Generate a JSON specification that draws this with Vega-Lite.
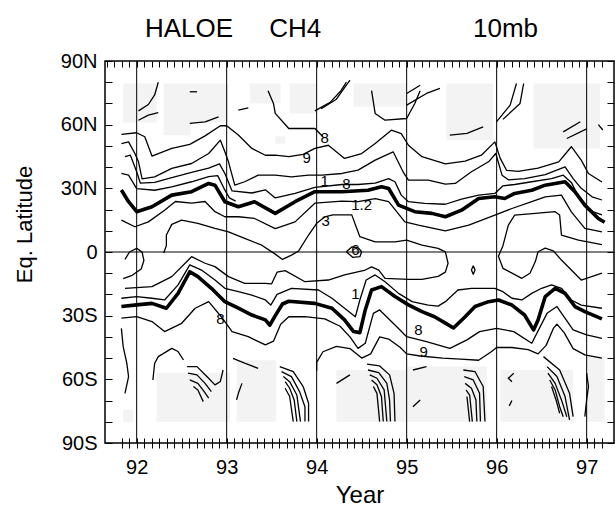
{
"$schema": "https://vega.github.io/schema/vega-lite/v6.json",
"width": 509, "height": 382,
"autosize": {"type": "none"},
"padding": {"left": 105, "top": 61, "right": 1, "bottom": 65},
"background": "white",
"config": {"font": "Liberation Sans", "view": {"stroke": "black", "strokeWidth": 1.5},
  "axis": {"grid": false, "domain": false, "tickColor": "black", "tickWidth": 1, "labelColor": "black", "titleColor": "black", "labelFont": "Liberation Sans", "titleFont": "Liberation Sans", "titleFontWeight": "normal", "labelOverlap": false, "labelFlush": false, "labelBound": false}},
"title": {"text": "HALOE\u00a0\u00a0\u00a0\u00a0\u00a0CH4\u00a0\u00a0\u00a0\u00a0\u00a0\u00a0\u00a0\u00a0\u00a0\u00a0\u00a0\u00a0\u00a0\u00a0\u00a0\u00a0\u00a0\u00a0\u00a0\u00a0\u00a010mb", "anchor": "start", "frame": "group", "dx": 40, "fontSize": 26, "fontWeight": "normal", "font": "Liberation Sans", "color": "black", "offset": 9},
"datasets": {
"lines": [
{"s":"NT","x":91.83,"y":29.2},{"s":"NT","x":91.91,"y":23.7},{"s":"NT","x":92.0,"y":19.0},{"s":"NT","x":92.17,"y":21.3},{"s":"NT","x":92.39,"y":26.8},{"s":"NT","x":92.61,"y":28.4},{"s":"NT","x":92.8,"y":32.3},{"s":"NT","x":92.87,"y":31.5},{"s":"NT","x":92.98,"y":23.7},{"s":"NT","x":93.13,"y":21.3},{"s":"NT","x":93.31,"y":23.7},{"s":"NT","x":93.54,"y":18.2},{"s":"NT","x":93.76,"y":23.7},{"s":"NT","x":93.98,"y":28.4},{"s":"NT","x":94.28,"y":28.4},{"s":"NT","x":94.57,"y":29.1},{"s":"NT","x":94.72,"y":30.7},{"s":"NT","x":94.8,"y":29.9},{"s":"NT","x":94.91,"y":22.1},{"s":"NT","x":95.09,"y":19.0},{"s":"NT","x":95.28,"y":18.2},{"s":"NT","x":95.43,"y":16.6},{"s":"NT","x":95.61,"y":19.7},{"s":"NT","x":95.8,"y":25.2},{"s":"NT","x":95.98,"y":26.0},{"s":"NT","x":96.09,"y":25.2},{"s":"NT","x":96.2,"y":27.6},{"s":"NT","x":96.39,"y":29.1},{"s":"NT","x":96.54,"y":31.5},{"s":"NT","x":96.76,"y":33.1},{"s":"NT","x":96.87,"y":28.4},{"s":"NT","x":96.98,"y":22.1},{"s":"NT","x":97.13,"y":15.8},{"s":"NT","x":97.2,"y":14.0},
{"s":"NA","x":91.83,"y":55.4},{"s":"NA","x":92.0,"y":56.2},{"s":"NA","x":92.09,"y":54.3},{"s":"NA","x":92.17,"y":45.2},{"s":"NA","x":92.39,"y":48.8},{"s":"NA","x":92.59,"y":50.7},{"s":"NA","x":92.76,"y":54.7},{"s":"NA","x":92.93,"y":59.5},{"s":"NA","x":93.0,"y":59.5},{"s":"NA","x":93.13,"y":55.1},{"s":"NA","x":93.28,"y":48.8},{"s":"NA","x":93.43,"y":45.6},{"s":"NA","x":93.54,"y":45.6},{"s":"NA","x":93.69,"y":44.9},{"s":"NA","x":93.85,"y":46.0},{"s":"NA","x":93.98,"y":48.8},{"s":"NA","x":94.13,"y":50.3},{"s":"NA","x":94.31,"y":44.1},{"s":"NA","x":94.5,"y":46.4},{"s":"NA","x":94.65,"y":51.1},{"s":"NA","x":94.83,"y":57.4},{"s":"NA","x":94.94,"y":55.8},{"s":"NA","x":95.02,"y":50.3},{"s":"NA","x":95.17,"y":44.9},{"s":"NA","x":95.43,"y":41.5},{"s":"NA","x":95.65,"y":42.8},{"s":"NA","x":95.83,"y":45.6},{"s":"NA","x":95.98,"y":51.9},{"s":"NA","x":96.04,"y":44.1},{"s":"NA","x":96.11,"y":38.5},{"s":"NA","x":96.24,"y":38.0},{"s":"NA","x":96.46,"y":39.5},{"s":"NA","x":96.69,"y":42.5},{"s":"NA","x":96.83,"y":49.6},{"s":"NA","x":96.94,"y":43.3},{"s":"NA","x":97.02,"y":37.0},{"s":"NA","x":97.17,"y":33.0},
{"s":"NB","x":91.83,"y":51.1},{"s":"NB","x":91.91,"y":51.9},{"s":"NB","x":91.98,"y":46.4},{"s":"NB","x":92.02,"y":42.5},{"s":"NB","x":92.06,"y":34.5},{"s":"NB","x":92.2,"y":35.4},{"s":"NB","x":92.39,"y":39.4},{"s":"NB","x":92.61,"y":41.7},{"s":"NB","x":92.8,"y":46.4},{"s":"NB","x":92.93,"y":52.7},{"s":"NB","x":92.98,"y":47.2},{"s":"NB","x":93.02,"y":42.5},{"s":"NB","x":93.09,"y":31.5},{"s":"NB","x":93.2,"y":33.1},{"s":"NB","x":93.35,"y":36.2},{"s":"NB","x":93.54,"y":36.2},{"s":"NB","x":93.72,"y":35.4},{"s":"NB","x":93.91,"y":36.2},{"s":"NB","x":94.06,"y":36.2},{"s":"NB","x":94.28,"y":37.0},{"s":"NB","x":94.46,"y":38.6},{"s":"NB","x":94.65,"y":43.3},{"s":"NB","x":94.85,"y":47.2},{"s":"NB","x":94.96,"y":37.8},{"s":"NB","x":95.02,"y":33.9},{"s":"NB","x":95.24,"y":33.9},{"s":"NB","x":95.43,"y":32.0},{"s":"NB","x":95.54,"y":32.3},{"s":"NB","x":95.72,"y":37.8},{"s":"NB","x":95.91,"y":42.5},{"s":"NB","x":95.99,"y":46.4},{"s":"NB","x":96.06,"y":36.2},{"s":"NB","x":96.13,"y":34.0},{"s":"NB","x":96.31,"y":34.6},{"s":"NB","x":96.54,"y":36.5},{"s":"NB","x":96.76,"y":40.1},{"s":"NB","x":96.85,"y":34.6},{"s":"NB","x":96.94,"y":30.0},{"s":"NB","x":97.06,"y":26.0},{"s":"NB","x":97.17,"y":24.5},
{"s":"NC","x":91.87,"y":44.9},{"s":"NC","x":91.93,"y":45.6},{"s":"NC","x":92.0,"y":37.8},{"s":"NC","x":92.04,"y":32.5},{"s":"NC","x":92.2,"y":32.8},{"s":"NC","x":92.39,"y":35.0},{"s":"NC","x":92.61,"y":37.5},{"s":"NC","x":92.8,"y":39.5},{"s":"NC","x":92.92,"y":41.5},{"s":"NC","x":92.98,"y":37.0},{"s":"NC","x":93.06,"y":28.8},{"s":"NC","x":93.28,"y":27.8},{"s":"NC","x":93.43,"y":29.3},{"s":"NC","x":93.54,"y":25.5},{"s":"NC","x":93.76,"y":27.6},{"s":"NC","x":93.98,"y":30.5},{"s":"NC","x":94.28,"y":31.8},{"s":"NC","x":94.46,"y":31.8},{"s":"NC","x":94.65,"y":32.5},{"s":"NC","x":94.8,"y":34.6},{"s":"NC","x":94.87,"y":33.1},{"s":"NC","x":94.94,"y":26.8},{"s":"NC","x":95.02,"y":23.7},{"s":"NC","x":95.2,"y":22.9},{"s":"NC","x":95.43,"y":22.5},{"s":"NC","x":95.61,"y":24.9},{"s":"NC","x":95.8,"y":26.8},{"s":"NC","x":95.98,"y":27.6},{"s":"NC","x":96.07,"y":31.2},{"s":"NC","x":96.2,"y":31.8},{"s":"NC","x":96.39,"y":33.1},{"s":"NC","x":96.61,"y":34.6},{"s":"NC","x":96.74,"y":36.2},{"s":"NC","x":96.83,"y":32.8},{"s":"NC","x":96.91,"y":26.0},{"s":"NC","x":97.02,"y":19.7},{"s":"NC","x":97.17,"y":17.5},
{"s":"ND","x":91.83,"y":37.0},{"s":"ND","x":91.91,"y":36.2},{"s":"ND","x":92.0,"y":29.9},{"s":"ND","x":92.2,"y":29.1},{"s":"ND","x":92.39,"y":30.7},{"s":"ND","x":92.61,"y":33.1},{"s":"ND","x":92.8,"y":35.5},{"s":"ND","x":92.9,"y":36.0},{"s":"ND","x":92.97,"y":30.0},{"s":"ND","x":93.03,"y":25.5},{"s":"ND","x":93.1,"y":24.0},
{"s":"NE","x":91.83,"y":15.0},{"s":"NE","x":91.98,"y":11.9},{"s":"NE","x":92.13,"y":14.2},{"s":"NE","x":92.31,"y":19.7},{"s":"NE","x":92.43,"y":23.8},{"s":"NE","x":92.61,"y":23.0},{"s":"NE","x":92.76,"y":23.8},{"s":"NE","x":92.87,"y":19.0},{"s":"NE","x":92.98,"y":16.6},{"s":"NE","x":93.13,"y":16.6},{"s":"NE","x":93.31,"y":15.8},{"s":"NE","x":93.54,"y":11.0},{"s":"NE","x":93.76,"y":14.2},{"s":"NE","x":93.98,"y":23.0},{"s":"NE","x":94.28,"y":24.0},{"s":"NE","x":94.46,"y":23.7},{"s":"NE","x":94.65,"y":25.2},{"s":"NE","x":94.8,"y":23.7},{"s":"NE","x":94.98,"y":14.2},{"s":"NE","x":95.13,"y":12.7},{"s":"NE","x":95.43,"y":10.0},{"s":"NE","x":95.69,"y":12.7},{"s":"NE","x":95.98,"y":17.4},{"s":"NE","x":96.17,"y":20.5},{"s":"NE","x":96.39,"y":23.7},{"s":"NE","x":96.54,"y":26.0},{"s":"NE","x":96.72,"y":26.8},{"s":"NE","x":96.83,"y":18.9},{"s":"NE","x":96.98,"y":11.1},{"s":"NE","x":97.17,"y":9.5},
{"s":"EN","x":92.3,"y":-0.5},{"s":"EN","x":92.33,"y":3.0},{"s":"EN","x":92.33,"y":8.0},{"s":"EN","x":92.39,"y":13.0},{"s":"EN","x":92.5,"y":15.0},{"s":"EN","x":92.68,"y":13.5},{"s":"EN","x":92.87,"y":11.1},{"s":"EN","x":93.02,"y":9.5},{"s":"EN","x":93.2,"y":6.4},{"s":"EN","x":93.39,"y":3.2},{"s":"EN","x":93.54,"y":-1.0},{"s":"EN","x":93.62,"y":-3.5},{"s":"EN","x":93.72,"y":-1.5},{"s":"EN","x":93.8,"y":0.5},{"s":"EN","x":93.91,"y":8.0},{"s":"EN","x":94.0,"y":13.5},{"s":"EN","x":94.09,"y":16.5},{"s":"EN","x":94.18,"y":17.5},{"s":"EN","x":94.39,"y":17.5},{"s":"EN","x":94.48,"y":7.2},{"s":"EN","x":94.65,"y":4.8},{"s":"EN","x":94.87,"y":4.8},{"s":"EN","x":95.0,"y":5.6},{"s":"EN","x":95.17,"y":3.2},{"s":"EN","x":95.35,"y":1.7},{"s":"EN","x":95.43,"y":0.1},{"s":"EN","x":95.46,"y":-5.3},{"s":"EN","x":95.43,"y":-9.5},{"s":"EN","x":95.35,"y":-11.5},{"s":"EN","x":95.17,"y":-12.9},{"s":"EN","x":95.02,"y":-12.9},{"s":"EN","x":94.76,"y":-12.4},{"s":"EN","x":94.69,"y":-8.5},{"s":"EN","x":94.61,"y":-7.0},{"s":"EN","x":94.54,"y":-8.5},{"s":"EN","x":94.31,"y":-10.8},{"s":"EN","x":94.13,"y":-13.2},{"s":"EN","x":93.87,"y":-14.0},{"s":"EN","x":93.65,"y":-8.8},{"s":"EN","x":93.56,"y":-9.5},{"s":"EN","x":93.5,"y":-15.0},{"s":"EN","x":93.43,"y":-14.8},{"s":"EN","x":93.2,"y":-14.8},{"s":"EN","x":93.02,"y":-11.6},{"s":"EN","x":92.87,"y":-6.9},{"s":"EN","x":92.76,"y":-5.3},{"s":"EN","x":92.61,"y":-2.2},{"s":"EN","x":92.39,"y":-11.6},{"s":"EN","x":92.17,"y":-16.3},{"s":"EN","x":91.87,"y":-17.1},
{"s":"F","x":97.17,"y":3.5},{"s":"F","x":96.91,"y":5.6},{"s":"F","x":96.72,"y":8.0},{"s":"F","x":96.7,"y":17.4},{"s":"F","x":96.65,"y":19.0},{"s":"F","x":96.43,"y":18.2},{"s":"F","x":96.2,"y":17.4},{"s":"F","x":96.13,"y":12.7},{"s":"F","x":96.07,"y":3.0},{"s":"F","x":96.02,"y":-2.0},{"s":"F","x":96.07,"y":-7.7},{"s":"F","x":96.28,"y":-12.4},{"s":"F","x":96.37,"y":-10.0},{"s":"F","x":96.43,"y":-4.5},{"s":"F","x":96.46,"y":0.1},{"s":"F","x":96.54,"y":1.8},{"s":"F","x":96.63,"y":0.5},{"s":"F","x":96.72,"y":-3.8},{"s":"F","x":96.83,"y":-8.5},{"s":"F","x":96.94,"y":-13.2},{"s":"F","x":97.17,"y":-10.0},
{"s":"E1","x":91.85,"y":-12.5},{"s":"E1","x":91.95,"y":-11.0},{"s":"E1","x":92.05,"y":-8.0},{"s":"E1","x":92.08,"y":-4.0},{"s":"E1","x":92.06,"y":0.0},{"s":"E1","x":92.0,"y":1.7},{"s":"E1","x":91.92,"y":0.0},{"s":"E1","x":91.87,"y":-3.5},
{"s":"EQ","x":94.33,"y":0.1},{"s":"EQ","x":94.39,"y":2.4},{"s":"EQ","x":94.46,"y":2.0},{"s":"EQ","x":94.5,"y":0.1},{"s":"EQ","x":94.48,"y":-2.2},{"s":"EQ","x":94.4,"y":-2.5},{"s":"EQ","x":94.33,"y":0.1},
{"s":"DI","x":95.74,"y":-6.5},{"s":"DI","x":95.76,"y":-8.5},{"s":"DI","x":95.74,"y":-10.5},{"s":"DI","x":95.72,"y":-8.5},{"s":"DI","x":95.74,"y":-6.5},
{"s":"T1","x":93.46,"y":76},{"s":"T1","x":93.52,"y":70.0},{"s":"T1","x":93.54,"y":65.3},{"s":"T1","x":93.69,"y":58.2},{"s":"T1","x":93.98,"y":58.2},{"s":"T1","x":94.07,"y":54.3},
{"s":"T2","x":94.61,"y":76},{"s":"T2","x":94.65,"y":65.3},{"s":"T2","x":94.76,"y":62.1},{"s":"T2","x":95.0,"y":62.9},{"s":"T2","x":95.09,"y":70.0},{"s":"T2","x":95.15,"y":76},
{"s":"h1","x":92.02,"y":66.5},{"s":"h1","x":92.13,"y":69.5},{"s":"h1","x":92.2,"y":74},{"s":"h1","x":92.24,"y":80},
{"s":"h2","x":92.02,"y":62.1},{"s":"h2","x":92.13,"y":64.5},{"s":"h2","x":92.24,"y":65.7},
{"s":"h3","x":92.59,"y":60.6},{"s":"h3","x":92.76,"y":61.3},{"s":"h3","x":92.91,"y":63.7},
{"s":"h4","x":93.13,"y":66.8},{"s":"h4","x":93.24,"y":67.9},
{"s":"h5","x":92.59,"y":75.5},{"s":"h5","x":92.67,"y":75.5},
{"s":"h6","x":93.98,"y":66.5},{"s":"h6","x":94.15,"y":70.5},{"s":"h6","x":94.27,"y":76},{"s":"h6","x":94.33,"y":80},
{"s":"h7","x":94.05,"y":67.5},{"s":"h7","x":94.22,"y":72},{"s":"h7","x":94.32,"y":78},{"s":"h7","x":94.37,"y":81},
{"s":"h8","x":95.0,"y":69.2},{"s":"h8","x":95.22,"y":74.7},{"s":"h8","x":95.37,"y":77.1},
{"s":"h9","x":95.0,"y":74.7},{"s":"h9","x":95.15,"y":78.6},
{"s":"h10","x":95.48,"y":55.1},{"s":"h10","x":95.67,"y":55.9},{"s":"h10","x":95.85,"y":59.0},
{"s":"h11","x":96.0,"y":61.4},{"s":"h11","x":96.15,"y":69.2},{"s":"h11","x":96.22,"y":79.4},
{"s":"h12","x":96.07,"y":62.5},{"s":"h12","x":96.26,"y":70.0},{"s":"h12","x":96.3,"y":79.4},
{"s":"h13","x":96.74,"y":56.6},{"s":"h13","x":96.93,"y":61.4},
{"s":"h14","x":96.78,"y":53.5},{"s":"h14","x":97.0,"y":58.0},
{"s":"h15","x":97.13,"y":60.0},{"s":"h15","x":97.18,"y":57.5},
{"s":"ST","x":91.83,"y":-25.7},{"s":"ST","x":92.0,"y":-24.9},{"s":"ST","x":92.17,"y":-24.2},{"s":"ST","x":92.33,"y":-26.5},{"s":"ST","x":92.46,"y":-19.5},{"s":"ST","x":92.59,"y":-9.3},{"s":"ST","x":92.68,"y":-11.6},{"s":"ST","x":92.83,"y":-17.1},{"s":"ST","x":92.98,"y":-23.4},{"s":"ST","x":93.13,"y":-26.5},{"s":"ST","x":93.28,"y":-29.7},{"s":"ST","x":93.43,"y":-32.0},{"s":"ST","x":93.48,"y":-34.5},{"s":"ST","x":93.54,"y":-30.0},{"s":"ST","x":93.62,"y":-24.5},{"s":"ST","x":93.69,"y":-23.2},{"s":"ST","x":93.98,"y":-24.2},{"s":"ST","x":94.17,"y":-26.5},{"s":"ST","x":94.31,"y":-32.0},{"s":"ST","x":94.41,"y":-37.5},{"s":"ST","x":94.48,"y":-38.0},{"s":"ST","x":94.54,"y":-27.3},{"s":"ST","x":94.61,"y":-17.9},{"s":"ST","x":94.72,"y":-16.3},{"s":"ST","x":94.87,"y":-21.0},{"s":"ST","x":95.02,"y":-24.9},{"s":"ST","x":95.17,"y":-28.1},{"s":"ST","x":95.31,"y":-30.5},{"s":"ST","x":95.43,"y":-33.5},{"s":"ST","x":95.52,"y":-35.8},{"s":"ST","x":95.65,"y":-30.5},{"s":"ST","x":95.76,"y":-25.7},{"s":"ST","x":95.91,"y":-23.4},{"s":"ST","x":96.02,"y":-22.6},{"s":"ST","x":96.17,"y":-25.0},{"s":"ST","x":96.31,"y":-29.7},{"s":"ST","x":96.41,"y":-36.7},{"s":"ST","x":96.46,"y":-32.0},{"s":"ST","x":96.54,"y":-21.0},{"s":"ST","x":96.65,"y":-17.1},{"s":"ST","x":96.76,"y":-19.5},{"s":"ST","x":96.87,"y":-25.7},{"s":"ST","x":96.98,"y":-28.1},{"s":"ST","x":97.17,"y":-31.5},
{"s":"S1","x":91.83,"y":-21.8},{"s":"S1","x":92.0,"y":-21.0},{"s":"S1","x":92.17,"y":-21.8},{"s":"S1","x":92.31,"y":-22.6},{"s":"S1","x":92.46,"y":-15.5},{"s":"S1","x":92.59,"y":-6.1},{"s":"S1","x":92.72,"y":-8.5},{"s":"S1","x":92.87,"y":-13.2},{"s":"S1","x":92.98,"y":-17.1},{"s":"S1","x":93.13,"y":-18.7},{"s":"S1","x":93.28,"y":-20.3},{"s":"S1","x":93.43,"y":-22.6},{"s":"S1","x":93.49,"y":-25.0},{"s":"S1","x":93.56,"y":-20.0},{"s":"S1","x":93.72,"y":-17.1},{"s":"S1","x":94.02,"y":-17.9},{"s":"S1","x":94.17,"y":-21.8},{"s":"S1","x":94.31,"y":-26.5},{"s":"S1","x":94.43,"y":-30.5},{"s":"S1","x":94.48,"y":-22.6},{"s":"S1","x":94.55,"y":-13.2},{"s":"S1","x":94.65,"y":-10.8},{"s":"S1","x":94.76,"y":-14.0},{"s":"S1","x":94.91,"y":-19.5},{"s":"S1","x":95.06,"y":-23.4},{"s":"S1","x":95.24,"y":-25.0},{"s":"S1","x":95.35,"y":-25.5},{"s":"S1","x":95.43,"y":-23.4},{"s":"S1","x":95.57,"y":-17.9},{"s":"S1","x":95.72,"y":-17.1},{"s":"S1","x":95.98,"y":-17.1},{"s":"S1","x":96.07,"y":-18.7},{"s":"S1","x":96.17,"y":-21.8},{"s":"S1","x":96.28,"y":-22.6},{"s":"S1","x":96.39,"y":-19.5},{"s":"S1","x":96.5,"y":-17.1},{"s":"S1","x":96.61,"y":-15.5},{"s":"S1","x":96.72,"y":-17.1},{"s":"S1","x":96.83,"y":-22.6},{"s":"S1","x":96.94,"y":-25.0},{"s":"S1","x":97.17,"y":-26.5},
{"s":"S3","x":91.83,"y":-31.2},{"s":"S3","x":92.0,"y":-30.5},{"s":"S3","x":92.17,"y":-32.8},{"s":"S3","x":92.31,"y":-37.5},{"s":"S3","x":92.5,"y":-33.6},{"s":"S3","x":92.65,"y":-26.5},{"s":"S3","x":92.8,"y":-23.4},{"s":"S3","x":92.94,"y":-30.5},{"s":"S3","x":93.06,"y":-37.5},{"s":"S3","x":93.24,"y":-39.9},{"s":"S3","x":93.43,"y":-43.8},{"s":"S3","x":93.52,"y":-42.0},{"s":"S3","x":93.6,"y":-34.0},{"s":"S3","x":93.69,"y":-30.5},{"s":"S3","x":93.87,"y":-30.5},{"s":"S3","x":94.09,"y":-31.5},{"s":"S3","x":94.26,"y":-35.0},{"s":"S3","x":94.37,"y":-40.0},{"s":"S3","x":94.46,"y":-45.4},{"s":"S3","x":94.54,"y":-43.0},{"s":"S3","x":94.63,"y":-28.9},{"s":"S3","x":94.7,"y":-27.3},{"s":"S3","x":94.89,"y":-35.2},{"s":"S3","x":95.0,"y":-39.9},{"s":"S3","x":95.22,"y":-42.2},{"s":"S3","x":95.48,"y":-45.4},{"s":"S3","x":95.67,"y":-41.4},{"s":"S3","x":95.81,"y":-37.5},{"s":"S3","x":96.0,"y":-36.0},{"s":"S3","x":96.19,"y":-37.5},{"s":"S3","x":96.39,"y":-43.0},{"s":"S3","x":96.56,"y":-28.9},{"s":"S3","x":96.67,"y":-25.7},{"s":"S3","x":96.85,"y":-36.7},{"s":"S3","x":97.0,"y":-39.1},{"s":"S3","x":97.17,"y":-40.7},
{"s":"S4","x":94.0,"y":-56.0},{"s":"S4","x":94.0,"y":-52.0},{"s":"S4","x":94.07,"y":-47.0},{"s":"S4","x":94.22,"y":-44.5},{"s":"S4","x":94.37,"y":-45.5},{"s":"S4","x":94.5,"y":-50.0},{"s":"S4","x":94.6,"y":-48.0},{"s":"S4","x":94.7,"y":-40.0},{"s":"S4","x":94.8,"y":-41.0},{"s":"S4","x":94.93,"y":-45.0},{"s":"S4","x":95.0,"y":-48.0},{"s":"S4","x":95.15,"y":-49.0},{"s":"S4","x":95.4,"y":-50.0},{"s":"S4","x":95.6,"y":-50.5},{"s":"S4","x":95.8,"y":-51.0},{"s":"S4","x":95.94,"y":-47.0},{"s":"S4","x":96.0,"y":-45.0},{"s":"S4","x":96.17,"y":-45.0},{"s":"S4","x":96.35,"y":-46.0},{"s":"S4","x":96.46,"y":-48.0},{"s":"S4","x":96.55,"y":-44.0},{"s":"S4","x":96.63,"y":-36.0},{"s":"S4","x":96.67,"y":-34.0},{"s":"S4","x":96.75,"y":-38.0},{"s":"S4","x":96.85,"y":-45.5},{"s":"S4","x":96.98,"y":-48.5},{"s":"S4","x":97.17,"y":-50.0},
{"s":"L1","x":91.83,"y":-36.0},{"s":"L1","x":91.85,"y":-44.6},{"s":"L1","x":91.89,"y":-52.4},{"s":"L1","x":91.91,"y":-58.7},{"s":"L1","x":91.87,"y":-66.6},
{"s":"L2","x":92.18,"y":-60.3},{"s":"L2","x":92.2,"y":-52.4},{"s":"L2","x":92.24,"y":-49.3},{"s":"L2","x":92.39,"y":-45.4},{"s":"L2","x":92.46,"y":-46.9},{"s":"L2","x":92.52,"y":-50.9},
{"s":"L3","x":93.07,"y":-50.1},{"s":"L3","x":93.2,"y":-52.4},{"s":"L3","x":93.35,"y":-54.8},
{"s":"L4","x":93.17,"y":-61.9},{"s":"L4","x":93.13,"y":-66.6},{"s":"L4","x":93.11,"y":-69.7},
{"s":"M1","x":94.22,"y":-61.9},{"s":"M1","x":94.37,"y":-57.9},
{"s":"a1","x":92.56,"y":-54.0},{"s":"a1","x":92.67,"y":-54.0},{"s":"a1","x":92.78,"y":-58.7},{"s":"a1","x":92.87,"y":-62.6},{"s":"a1","x":92.93,"y":-61.0},{"s":"a1","x":92.96,"y":-55.6},
{"s":"a2","x":92.57,"y":-57.1},{"s":"a2","x":92.67,"y":-57.9},{"s":"a2","x":92.76,"y":-61.9},{"s":"a2","x":92.83,"y":-65.8},
{"s":"a3","x":92.59,"y":-60.3},{"s":"a3","x":92.68,"y":-61.9},{"s":"a3","x":92.75,"y":-65.8},{"s":"a3","x":92.8,"y":-68.9},
{"s":"a4","x":92.63,"y":-63.4},{"s":"a4","x":92.68,"y":-65.0},{"s":"a4","x":92.74,"y":-70.5},
{"s":"b1","x":93.59,"y":-54.0},{"s":"b1","x":93.74,"y":-56.4},{"s":"b1","x":93.85,"y":-63.4},{"s":"b1","x":93.91,"y":-71.3},{"s":"b1","x":93.91,"y":-79.9},
{"s":"b2","x":93.61,"y":-56.4},{"s":"b2","x":93.72,"y":-58.7},{"s":"b2","x":93.81,"y":-65.8},{"s":"b2","x":93.87,"y":-72.9},{"s":"b2","x":93.87,"y":-79.9},
{"s":"b3","x":93.63,"y":-58.7},{"s":"b3","x":93.7,"y":-61.1},{"s":"b3","x":93.78,"y":-67.4},{"s":"b3","x":93.82,"y":-79.9},
{"s":"b4","x":93.65,"y":-61.1},{"s":"b4","x":93.7,"y":-64.2},{"s":"b4","x":93.75,"y":-69.7},{"s":"b4","x":93.78,"y":-79.9},
{"s":"b5","x":93.65,"y":-64.2},{"s":"b5","x":93.7,"y":-68.1},{"s":"b5","x":93.74,"y":-79.9},
{"s":"c1","x":94.56,"y":-52.8},{"s":"c1","x":94.7,"y":-53.7},{"s":"c1","x":94.81,"y":-57.9},{"s":"c1","x":94.86,"y":-66.6},{"s":"c1","x":94.87,"y":-79.9},
{"s":"c2","x":94.57,"y":-55.6},{"s":"c2","x":94.69,"y":-56.8},{"s":"c2","x":94.78,"y":-61.9},{"s":"c2","x":94.81,"y":-69.7},{"s":"c2","x":94.82,"y":-79.9},
{"s":"c3","x":94.59,"y":-57.9},{"s":"c3","x":94.67,"y":-59.5},{"s":"c3","x":94.75,"y":-65.0},{"s":"c3","x":94.78,"y":-79.9},
{"s":"c4","x":94.61,"y":-60.3},{"s":"c4","x":94.67,"y":-62.6},{"s":"c4","x":94.72,"y":-68.1},{"s":"c4","x":94.74,"y":-79.9},
{"s":"c5","x":94.63,"y":-63.4},{"s":"c5","x":94.67,"y":-66.6},{"s":"c5","x":94.7,"y":-79.9},
{"s":"d1","x":95.63,"y":-55.6},{"s":"d1","x":95.76,"y":-56.4},{"s":"d1","x":95.85,"y":-63.4},{"s":"d1","x":95.87,"y":-79.9},
{"s":"d2","x":95.64,"y":-58.7},{"s":"d2","x":95.74,"y":-60.3},{"s":"d2","x":95.81,"y":-66.6},{"s":"d2","x":95.82,"y":-79.9},
{"s":"d3","x":95.65,"y":-61.9},{"s":"d3","x":95.72,"y":-64.2},{"s":"d3","x":95.77,"y":-69.7},{"s":"d3","x":95.78,"y":-79.9},
{"s":"d4","x":95.66,"y":-65.0},{"s":"d4","x":95.7,"y":-67.4},{"s":"d4","x":95.73,"y":-79.9},
{"s":"d5","x":95.67,"y":-68.1},{"s":"d5","x":95.7,"y":-79.9},
{"s":"e1","x":96.52,"y":-49.3},{"s":"e1","x":96.7,"y":-55.6},{"s":"e1","x":96.81,"y":-66.6},{"s":"e1","x":96.85,"y":-77.6},
{"s":"e2","x":96.56,"y":-54.0},{"s":"e2","x":96.67,"y":-58.7},{"s":"e2","x":96.76,"y":-68.1},{"s":"e2","x":96.81,"y":-79.1},
{"s":"e3","x":96.57,"y":-57.1},{"s":"e3","x":96.65,"y":-61.9},{"s":"e3","x":96.72,"y":-69.7},{"s":"e3","x":96.78,"y":-77.6},
{"s":"e4","x":96.59,"y":-60.3},{"s":"e4","x":96.65,"y":-65.0},{"s":"e4","x":96.7,"y":-72.9},{"s":"e4","x":96.74,"y":-77.6},
{"s":"e5","x":96.61,"y":-63.4},{"s":"e5","x":96.66,"y":-69.7},{"s":"e5","x":96.7,"y":-76.0},
{"s":"R1","x":97.0,"y":-57.1},{"s":"R1","x":97.02,"y":-63.4},{"s":"R1","x":97.0,"y":-69.7},{"s":"R1","x":96.98,"y":-77.6},
{"s":"HK","x":96.19,"y":-57.1},{"s":"HK","x":96.13,"y":-59.5},{"s":"HK","x":96.17,"y":-61.1},
{"s":"D1","x":95.07,"y":-55.6},{"s":"D1","x":95.22,"y":-54.0},
{"s":"D2","x":95.15,"y":-69.7},{"s":"D2","x":95.07,"y":-72.9},
{"s":"D3","x":96.17,"y":-70.0},{"s":"D3","x":96.14,"y":-72.5}
],
"rects": [
{"x0":91.85,"x1":92.22,"y0":61,"y1":79.4},{"x0":92.3,"x1":92.6,"y0":55,"y1":79.4},{"x0":92.6,"x1":93.02,"y0":61,"y1":79.4},{"x0":93.26,"x1":93.6,"y0":70,"y1":79.4},{"x0":93.7,"x1":94.0,"y0":65.3,"y1":79.4},{"x0":93.54,"x1":93.65,"y0":51,"y1":54.5},{"x0":94.41,"x1":95.0,"y0":68.4,"y1":79.4},{"x0":95.44,"x1":95.96,"y0":52.7,"y1":79.4},{"x0":96.41,"x1":97.15,"y0":48.8,"y1":79.4},
{"x0":91.85,"x1":91.96,"y0":-80,"y1":-74.4},{"x0":92.22,"x1":93.04,"y0":-80,"y1":-57},{"x0":93.11,"x1":93.55,"y0":-80,"y1":-51},{"x0":94.22,"x1":95.0,"y0":-80,"y1":-55.6},{"x0":95.0,"x1":95.89,"y0":-80,"y1":-54},{"x0":96.04,"x1":96.85,"y0":-80,"y1":-55.6},{"x0":97.0,"x1":97.2,"y0":-80,"y1":-49}
],
"labels": [
{"t":"8","x":94.09,"y":53.5},{"t":"9","x":93.89,"y":44.5},{"t":"1","x":94.09,"y":33.6},{"t":"8","x":94.33,"y":32.0},{"t":"1.2","x":94.5,"y":22.2},{"t":"3","x":94.1,"y":14.5},{"t":"8","x":92.93,"y":-31.5},{"t":"8","x":95.13,"y":-36.7},{"t":"9","x":95.19,"y":-46.9},{"t":"6","x":94.43,"y":1.0},{"t":"1","x":94.43,"y":-20.0}
]
},
"resolve": {"axis": {"x": "independent", "y": "independent"}},
"layer": [
{"data": {"name": "rects"},
 "mark": {"type": "rect", "fill": "#f3f3f3"},
 "encoding": {
  "x": {"field": "x0", "type": "quantitative", "scale": {"domain": [91.648, 97.304], "nice": false, "zero": false},
        "axis": {"orient": "top", "values": [91.6667,91.75,91.8333,91.9167,92,92.0833,92.1667,92.25,92.3333,92.4167,92.5,92.5833,92.6667,92.75,92.8333,92.9167,93,93.0833,93.1667,93.25,93.3333,93.4167,93.5,93.5833,93.6667,93.75,93.8333,93.9167,94,94.0833,94.1667,94.25,94.3333,94.4167,94.5,94.5833,94.6667,94.75,94.8333,94.9167,95,95.0833,95.1667,95.25,95.3333,95.4167,95.5,95.5833,95.6667,95.75,95.8333,95.9167,96,96.0833,96.1667,96.25,96.3333,96.4167,96.5,96.5833,96.6667,96.75,96.8333,96.9167,97,97.0833,97.1667], "labels": false, "tickSize": 6, "offset": -6, "title": null}},
  "x2": {"field": "x1"},
  "y": {"field": "y0", "type": "quantitative", "scale": {"domain": [-90, 90], "nice": false, "zero": false},
        "axis": {"orient": "right", "values": [-90,-80,-70,-60,-50,-40,-30,-20,-10,0,10,20,30,40,50,60,70,80,90], "labels": false, "tickSize": 7, "offset": -7, "title": null}},
  "y2": {"field": "y1"}
 }},
{"data": {"values": [{"year": 92}, {"year": 93}, {"year": 94}, {"year": 95}, {"year": 96}, {"year": 97}]},
 "mark": {"type": "rule", "stroke": "black", "strokeWidth": 1},
 "encoding": {"x": {"field": "year", "type": "quantitative", "scale": {"domain": [91.648, 97.304], "nice": false, "zero": false}, "axis": null}}},
{"data": {"values": [{"lat": 0}]},
 "mark": {"type": "rule", "stroke": "black", "strokeWidth": 1},
 "encoding": {"y": {"field": "lat", "type": "quantitative", "scale": {"domain": [-90, 90], "nice": false, "zero": false}, "axis": null}}},
{"data": {"name": "lines"},
 "transform": [{"filter": "datum.s != 'NT' && datum.s != 'ST'"}],
 "mark": {"type": "line", "stroke": "black", "strokeWidth": 1.3, "strokeJoin": "round"},
 "encoding": {
  "x": {"field": "x", "type": "quantitative", "scale": {"domain": [91.648, 97.304], "nice": false, "zero": false},
        "axis": {"orient": "bottom", "values": [91.8333,91.9167,92,92.0833,92.1667,92.25,92.3333,92.4167,92.5,92.5833,92.6667,92.75,92.8333,92.9167,93,93.0833,93.1667,93.25,93.3333,93.4167,93.5,93.5833,93.6667,93.75,93.8333,93.9167,94,94.0833,94.1667,94.25,94.3333,94.4167,94.5,94.5833,94.6667,94.75,94.8333,94.9167,95,95.0833,95.1667,95.25,95.3333,95.4167,95.5,95.5833,95.6667,95.75,95.8333,95.9167,96,96.0833,96.1667,96.25,96.3333,96.4167,96.5,96.5833,96.6667,96.75,96.8333,96.9167,97,97.0833,97.1667],
                 "labelExpr": "abs(datum.value - round(datum.value)) < 0.01 ? format(datum.value, 'd') : ''",
                 "tickSize": 10, "offset": -5, "labelFontSize": 20, "labelPadding": 9, "title": "Year", "titleFontSize": 24, "titlePadding": 6}},
  "y": {"field": "y", "type": "quantitative", "scale": {"domain": [-90, 90], "nice": false, "zero": false},
        "axis": {"orient": "left", "values": [-90,-80,-70,-60,-50,-40,-30,-20,-10,0,10,20,30,40,50,60,70,80,90],
                 "labelExpr": "datum.value % 30 != 0 ? '' : (datum.value > 0 ? datum.value + 'N' : (datum.value < 0 ? (-datum.value) + 'S' : '0'))",
                 "tickSize": 7, "offset": -7, "labelFontSize": 20, "labelPadding": 8, "labelBaseline": "middle", "title": "Eq. Latitude", "titleFontSize": 22, "titlePadding": 24, "titleY": 163}},
  "detail": {"field": "s", "type": "nominal"},
  "order": {"value": null}
 }},
{"data": {"name": "lines"},
 "transform": [{"filter": "datum.s == 'NT' || datum.s == 'ST'"}],
 "mark": {"type": "line", "stroke": "black", "strokeWidth": 3.6, "strokeJoin": "round"},
 "encoding": {
  "x": {"field": "x", "type": "quantitative", "scale": {"domain": [91.648, 97.304], "nice": false, "zero": false}, "axis": null},
  "y": {"field": "y", "type": "quantitative", "scale": {"domain": [-90, 90], "nice": false, "zero": false}, "axis": null},
  "detail": {"field": "s", "type": "nominal"},
  "order": {"value": null}
 }},
{"data": {"name": "labels"},
 "mark": {"type": "text", "fontSize": 15, "font": "Liberation Sans", "color": "black", "align": "center", "baseline": "middle"},
 "encoding": {
  "x": {"field": "x", "type": "quantitative", "scale": {"domain": [91.648, 97.304], "nice": false, "zero": false}, "axis": null},
  "y": {"field": "y", "type": "quantitative", "scale": {"domain": [-90, 90], "nice": false, "zero": false}, "axis": null},
  "text": {"field": "t", "type": "nominal"}
 }}
]
}
